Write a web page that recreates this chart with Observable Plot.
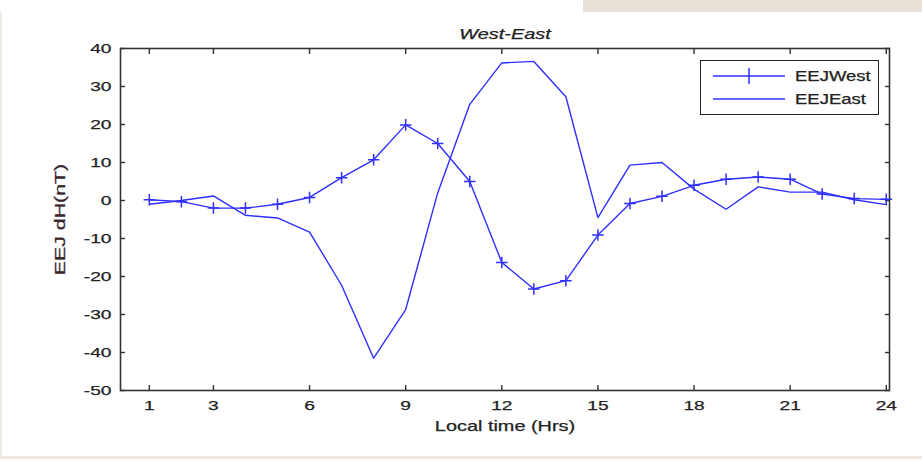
<!DOCTYPE html>
<html>
<head>
<meta charset="utf-8">
<script src="https://cdn.jsdelivr.net/npm/d3@7"></script>
<script src="https://cdn.jsdelivr.net/npm/@observablehq/plot@0.6"></script>
<style>
  html, body { margin: 0; padding: 0; background: #fff; }
  #wrap { position: relative; width: 922px; height: 462px; overflow: hidden; font-family: "Liberation Sans", Arial, sans-serif; }
  #topbar { position: absolute; left: 583px; top: 0; width: 339px; height: 12px; background: #e9e1d8; }
  #leftbar { position: absolute; left: 0; top: 12px; width: 2px; height: 446px; background: #eee9e3; }
  #botbar { position: absolute; left: 0; top: 456px; width: 922px; height: 3px; background: #ece6df; }
  #chart { position: absolute; left: 0; top: 0; }
  #chart text { stroke: currentColor; stroke-width: 0.25px; }
  #legend { position: absolute; left: 700px; top: 60px; width: 179px; height: 55px; border: 1.5px solid #222; background: #fff; box-sizing: border-box; }
  #legend .row { position: absolute; left: 12px; height: 20px; display: flex; align-items: center; font-size: 14px; color: #222; }
  #legend svg { margin-right: 10px; }
  #legend span { display: inline-block; transform: scaleX(1.32); transform-origin: left center; -webkit-text-stroke: 0.25px #222; }
</style>
</head>
<body>
<div id="wrap">
  <div id="topbar"></div>
  <div id="leftbar"></div>
  <div id="botbar"></div>
  <div id="chart"></div>
  <div id="legend"></div>
</div>
<script>
const hours = [1,2,3,4,5,6,7,8,9,10,11,12,13,14,15,16,17,18,19,20,21,22,23,24];
const eejWest = [0.2,-0.3,-2,-2,-1,0.8,6,10.7,19.9,15,5,-16.3,-23.3,-21.1,-9.1,-0.8,1.1,4,5.6,6.2,5.6,1.7,0.5,0.3];
const eejEast = [-1,0,1.2,-3.9,-4.6,-8.3,-22.3,-41.5,-28.7,2,25.3,36.2,36.6,27.3,-4.5,9.3,10,3,-2.3,3.6,2.2,2.2,0.2,-1.1];
const xTicks = [1,3,6,9,12,15,18,21,24];
const yTicks = [40,30,20,10,0,-10,-20,-30,-40,-50];
const seriesNames = ["EEJWest","EEJEast"];
const titleText = "West-East";
const xLabel = "Local time (Hrs)";
const yLabel = "EEJ dH(nT)";

const lineColor = "#2f2fff";
const west = hours.map((h,i) => ({h, v: eejWest[i]}));
const east = hours.map((h,i) => ({h, v: eejEast[i]}));

const plusSymbol = {
  draw(context, size) {
    const r = Math.sqrt(size) / 2;
    context.moveTo(-r, 0); context.lineTo(r, 0);
    context.moveTo(0, -r); context.lineTo(0, r);
  }
};

const axisStyle = {fontSize: "13.5px", fill: "#222", color: "#222"};
const fmt = d => String(d);

const chart = Plot.plot({
  width: 922,
  height: 462,
  marginLeft: 120,
  marginRight: 33,
  marginTop: 48,
  marginBottom: 72,
  style: {fontFamily: "'Liberation Sans', Arial, sans-serif", background: "transparent", color: "#222"},
  x: {domain: [0.1, 24.1]},
  y: {domain: [-50, 40]},
  marks: [
    Plot.frame({stroke: "#333", strokeWidth: 1.6}),
    Plot.axisX({ticks: xTicks, anchor: "bottom", tickSize: -5, text: null, label: null, stroke: "#333", strokeWidth: 1.4}),
    Plot.axisX({ticks: xTicks, anchor: "top", tickSize: -5, text: null, label: null, stroke: "#333", strokeWidth: 1.4}),
    Plot.axisX({ticks: xTicks, anchor: "bottom", tickSize: 0, tickPadding: 10, label: null, tickFormat: fmt, ...axisStyle}),
    Plot.axisY({ticks: yTicks, anchor: "left", tickSize: -5, text: null, label: null, stroke: "#333", strokeWidth: 1.4}),
    Plot.axisY({ticks: yTicks, anchor: "right", tickSize: -5, text: null, label: null, stroke: "#333", strokeWidth: 1.4}),
    Plot.axisY({ticks: yTicks, anchor: "left", tickSize: 0, tickPadding: 9, label: null, tickFormat: fmt, ...axisStyle}),
    Plot.line(east, {x: "h", y: "v", stroke: lineColor, strokeWidth: 1.4}),
    Plot.line(west, {x: "h", y: "v", stroke: lineColor, strokeWidth: 1.4}),
    Plot.dot(west, {x: "h", y: "v", symbol: plusSymbol, r: 6.5, stroke: lineColor, strokeWidth: 1.5, fill: "none"}),
    Plot.text([titleText], {frameAnchor: "top", dy: -19, text: d => d, fontSize: 14, fontStyle: "italic", fill: "#222"}),
    Plot.text([xLabel], {frameAnchor: "bottom", dy: 40, text: d => d, fontSize: 14, fill: "#222"}),
    Plot.text([yLabel], {frameAnchor: "left", dx: -60, rotate: -90, textAnchor: "middle", text: d => d, fontSize: 15, fill: "#3a2430"})
  ]
});
document.getElementById("chart").appendChild(chart);

// reproduce the horizontally widened lettering of the original image
chart.querySelectorAll("text").forEach(t => {
  const len = t.getComputedTextLength();
  if (len > 0) {
    t.setAttribute("textLength", (len * 1.42).toFixed(1));
    t.setAttribute("lengthAdjust", "spacingAndGlyphs");
  }
});

// legend
const legend = document.getElementById("legend");
seriesNames.forEach((name, i) => {
  const row = document.createElement("div");
  row.className = "row";
  row.style.top = (5 + i * 23) + "px";
  const marker = i === 0 ? `<line x1="36" y1="2" x2="36" y2="18" stroke="${lineColor}" stroke-width="1.5"/>` : "";
  row.innerHTML = `<svg width="72" height="20"><line x1="0" y1="10" x2="72" y2="10" stroke="${lineColor}" stroke-width="1.5"/>${marker}</svg><span>${name}</span>`;
  legend.appendChild(row);
});
</script>
</body>
</html>
